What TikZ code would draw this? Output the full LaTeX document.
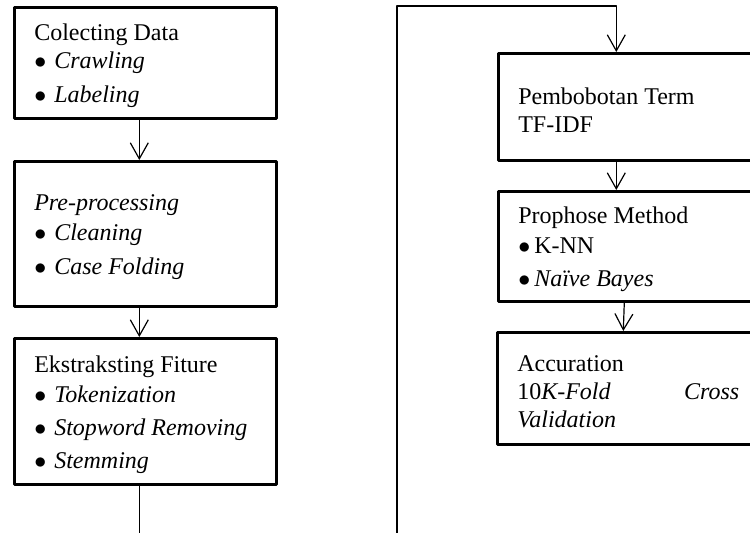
\documentclass[tikz,border=0pt]{standalone}
\usepackage{fontspec}
\setmainfont{Liberation Serif}
\usetikzlibrary{arrows.meta}
\newcommand{\bul}[1][10pt]{\makebox[#1][l]{$\bullet$}}
\begin{document}
\begin{tikzpicture}[x=0.5pt, y=-0.5pt, font=\fontsize{12}{14}\selectfont, line join=round, line cap=round, line width=0.6pt,
    >={Straight Barb[length=8pt,width=9pt]},
    box/.style={draw, line width=1.3pt, anchor=north west, minimum width=131pt, text width=111pt, inner xsep=10pt, align=flush left,
      execute at begin node={\rule{0pt}{11.5pt}}}]
    \clip (0,0) rectangle (750,533); % khung hinh
    % cot trai
    \node[box, minimum height=55.5pt] (collect) at (13,6) {Colecting Data\\ \bul\textit{Crawling}\\[3pt] \bul\textit{Labeling}};
    \node[box, minimum height=72.5pt] (prep) at (13,160) {\textit{Pre-processing}\\[1pt] \bul\textit{Cleaning}\\[3pt] \bul\textit{Case Folding}};
    \node[box, minimum height=73pt] (ext) at (13,337) {Ekstraksting Fiture\\[1pt] \bul\textit{Tokenization}\\[2.5pt] \bul\textit{Stopword Removing}\\[2.5pt] \bul\textit{Stemming}};
    % cot phai
    \node[box, minimum height=53.5pt] (tfidf) at (497,52) {Pembobotan Term\\ TF-IDF};
    \node[box, minimum height=55pt] (method) at (497,190) {Prophose Method\\[1pt] \bul[8pt]K-NN\\[2.5pt] \bul[8pt]\textit{Naïve Bayes}};
    \node[box, minimum height=56pt] (acc) at (496,331) {Accuration\\ 10\textit{K-Fold}\hfill\textit{Cross}\\ \textit{Validation}};
    % noi tiep trang
    \coordinate (endR) at (397,533);
    \coordinate (topR) at (397,6);
    \draw[->] ([xshift=-3pt]collect.south) -- ([xshift=-3pt]prep.north);
    \draw[->] ([xshift=-3pt]prep.south) -- ([xshift=-3pt]ext.north);
    \draw ([xshift=-3pt]ext.south) -- ++(0,60);
    \draw[->] (endR) -- (topR) -| ([xshift=-6.5pt]tfidf.north);
    \draw[->] ([xshift=-6.5pt]tfidf.south) -- ([xshift=-6.5pt]method.north);
    \draw[->] ([xshift=-2.5pt]method.south) -- ([xshift=-2.5pt]acc.north);
\end{tikzpicture}
\end{document}
